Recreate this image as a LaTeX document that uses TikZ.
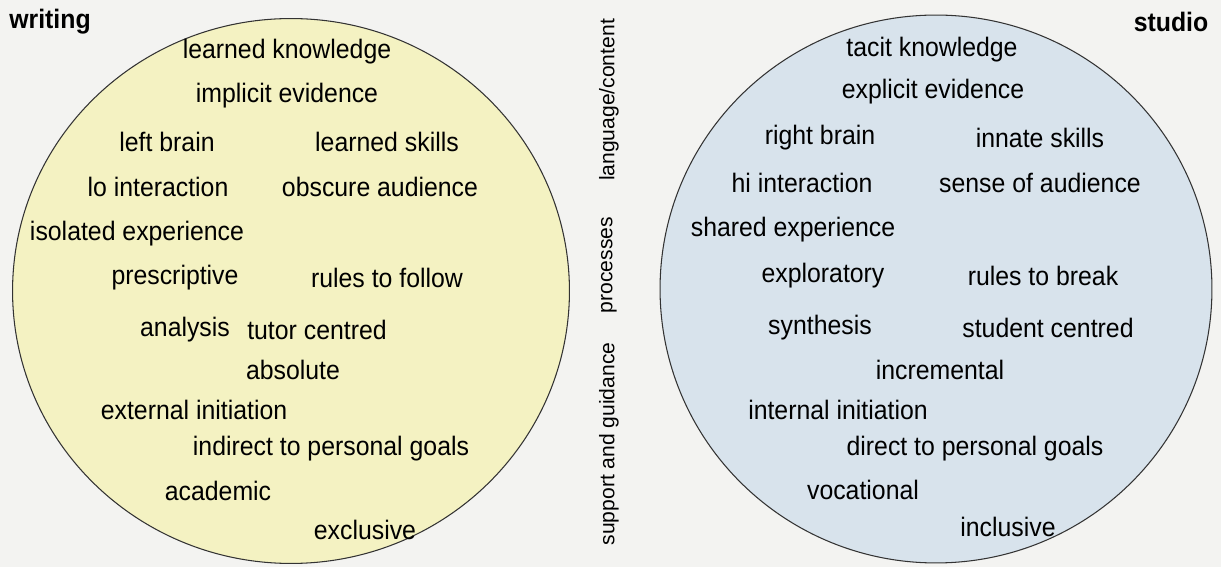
\documentclass[tikz,border=0pt]{standalone}
\usepackage{fontspec}
\setmainfont{Liberation Sans}
\usetikzlibrary{shapes.geometric}
\definecolor{writefill}{HTML}{F4F2C2}
\definecolor{studiofill}{HTML}{D8E3EC}
\definecolor{pagegrey}{HTML}{F3F3F1}
\tikzstyle{blob} = [ellipse, draw=black!80, line width=0.6pt, inner sep=0pt]
\tikzstyle{item} = [inner sep=0pt, xscale=0.93, font=\fontsize{15.2}{17}\selectfont]
\tikzstyle{heading} = [inner sep=0pt, xscale=0.93, font=\fontsize{15.2}{17}\selectfont\bfseries]
\tikzstyle{axis} = [inner sep=0pt, rotate=90, font=\fontsize{12}{14}\selectfont]

\begin{document}
\begin{tikzpicture}[x=0.02cm, y=-0.02cm]

\fill[pagegrey] (0,0) rectangle (1221,567);
\useasboundingbox (0,0) rectangle (1221,567);

% the two circles
\node (writing) [blob, fill=writefill, minimum width=11.14cm, minimum height=10.9cm] at (291,291) {};
\node (studio) [blob, fill=studiofill, minimum width=11.04cm, minimum height=10.96cm] at (936,289) {};

\node (wtitle) [heading] at (50,22) {writing};
\node (stitle) [heading] at (1171,22) {studio};

% labels in the middle
\node (lang) [axis] at (609,100) {language/content};
\node (proc) [axis] at (609,265) {processes};
\node (supp) [axis] at (609,444) {support and guidance};

% writing side
\node (w1) [item] at (287,52) {learned knowledge};
\node (w2) [item] at (287,96) {implicit evidence};
\node (w3) [item] at (167,142) {left brain};
\node (w4) [item] at (387,142) {learned skills};
\node (w5) [item] at (158,187) {lo interaction};
\node (w6) [item] at (380,187) {obscure audience};
\node (w7) [item] at (137,234) {isolated experience};
\node (w8) [item] at (175,278) {prescriptive};
\node (w9) [item] at (387,278) {rules to follow};
\node (w10) [item] at (185,330) {analysis};
\node (w11) [item] at (317,330) {tutor centred};
\node (w12) [item] at (293,370) {absolute};
\node (w13) [item] at (194,410) {external initiation};
\node (w14) [item] at (331,449) {indirect to personal goals};
\node (w15) [item] at (218,491) {academic};
\node (w16) [item] at (365,530) {exclusive};

% studio side
\node (s1) [item] at (932,50) {tacit knowledge};
\node (s2) [item] at (933,92) {explicit evidence};
\node (s3) [item] at (820,138) {right brain};
\node (s4) [item] at (1040,138) {innate skills};
\node (s5) [item] at (802,183) {hi interaction};
\node (s6) [item] at (1040,183) {sense of audience};
\node (s7) [item] at (793,230) {shared experience};
\node (s8) [item] at (823,276) {exploratory};
\node (s9) [item] at (1043,276) {rules to break};
\node (s10) [item] at (820,328) {synthesis};
\node (s11) [item] at (1048,328) {student centred};
\node (s12) [item] at (940,370) {incremental};
\node (s13) [item] at (838,410) {internal initiation};
\node (s14) [item] at (975,449) {direct to personal goals};
\node (s15) [item] at (863,490) {vocational};
\node (s16) [item] at (1008,527) {inclusive};

\end{tikzpicture}
\end{document}
